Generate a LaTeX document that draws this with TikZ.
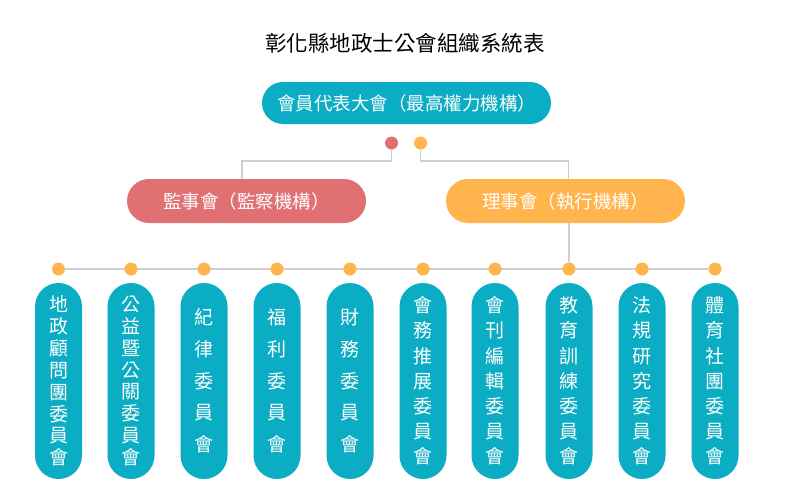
\documentclass[tikz,border=0pt]{standalone}
\usepackage{fontspec}
\setmainfont{Noto Sans CJK TC}
\usetikzlibrary{backgrounds}
\definecolor{tealpill}{HTML}{0AADC3}
\definecolor{redpill}{HTML}{E07072}
\definecolor{orangepill}{HTML}{FFB44D}
\definecolor{linkgray}{HTML}{CFCFCF}
\tikzset{
  pill/.style={fill=#1,text=white,inner sep=0pt,font=\fontsize{18.5}{22}\selectfont},
  vpill/.style={pill=tealpill,minimum width=47,minimum height=196,rounded corners=23.5,align=center},
  dot/.style={circle,fill=#1,inner sep=0pt,minimum size=13},
  link/.style={draw=linkgray,line width=1.2pt}
}
\begin{document}
\begin{tikzpicture}[x=1pt,y=-1pt]
\useasboundingbox (0,0) rectangle (789,495);
\node[font=\fontsize{21.5}{24}\selectfont] (title) at (405,43) {彰化縣地政士公會組織系統表};
\node[pill=tealpill,minimum width=289,minimum height=42,rounded corners=21] (top) at (406.5,103) {會員代表大會（最高權力機構）};
\node[dot=redpill] (rdot) at (391.5,143) {};
\node[dot=orangepill] (odot) at (420.5,143) {};
\node[pill=redpill,minimum width=239,minimum height=44,rounded corners=22] (sup) at (246.5,201) {監事會（監察機構）};
\node[pill=orangepill,minimum width=239,minimum height=44,rounded corners=22] (dir) at (565.5,201) {理事會（執行機構）};
\foreach \x/\t/\s [count=\i] in {
  58.5/{地\\政\\顧\\問\\團\\委\\員\\會}/21.9,
  131/{公\\益\\暨\\公\\關\\委\\員\\會}/21.9,
  204/{紀\\律\\委\\員\\會}/31.7,
  277/{福\\利\\委\\員\\會}/31.7,
  350/{財\\務\\委\\員\\會}/31.7,
  423/{會\\務\\推\\展\\委\\員\\會}/25.2,
  495/{會\\刊\\編\\輯\\委\\員\\會}/25.2,
  569/{教\\育\\訓\\練\\委\\員\\會}/25.2,
  642/{法\\規\\研\\究\\委\\員\\會}/25.2,
  715/{體\\育\\社\\團\\委\\員\\會}/25.2}
{
  \node[dot=orangepill] (d\i) at (\x,269) {};
  \node[vpill,font=\fontsize{19}{\s}\selectfont] (c\i) at (\x,381) {\t};
}
\begin{scope}[on background layer]
\draw[link] (rdot) -- ++(0,18) -| ([xshift=-4.5]sup.north);
\draw[link] (odot) -- ++(0,18) -| ([xshift=3]dir.north);
\draw[link] (d8 |- dir.south) -- (d8);
\draw[link] (d1) -- (d10);
\end{scope}
\end{tikzpicture}
\end{document}
